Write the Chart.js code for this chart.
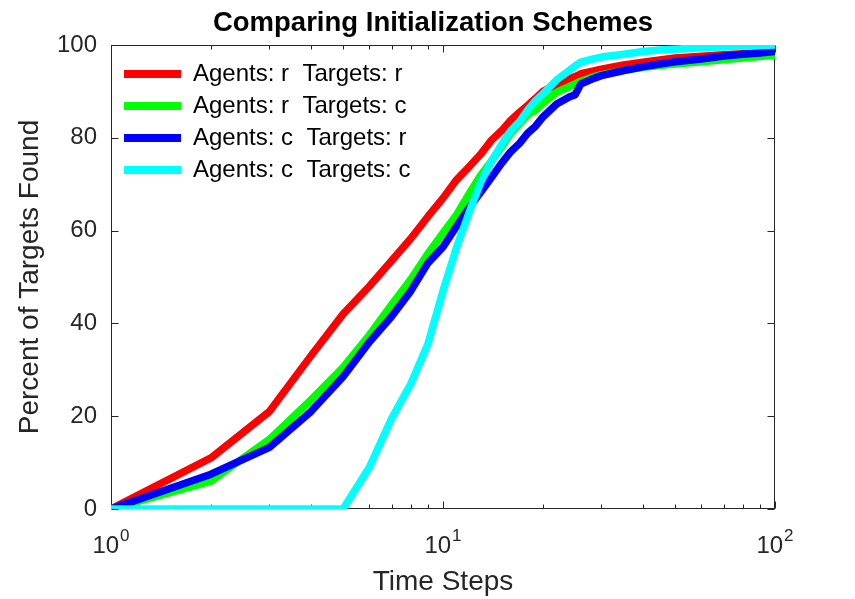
<!DOCTYPE html>
<html>
<head>
<meta charset="utf-8">
<script src="https://cdn.jsdelivr.net/npm/chart.js@4"></script>
<style>
  html, body { margin: 0; background: #fff; }
  canvas { display: block; }
</style>
</head>
<body>
<canvas id="chart" width="855" height="599"></canvas>
<script>
// ── Data ──
const steps = [1, 2, 3, 4, 5, 6, 7, 8, 9, 10, 11, 12, 13, 14, 15, 16, 17, 18, 19, 20,
               22, 24, 25, 26, 28, 30, 35, 40, 45, 50, 60, 70, 80, 90, 100];

const agentsRTargetsR = [0, 11, 21, 33, 42, 48, 53.5, 58.3, 63, 67, 71, 73.8, 76.5, 79.5, 81.5, 83.8, 85.5, 87, 88.5, 90,
                         91.5, 92.7, 93.2, 93.8, 94.3, 94.8, 95.7, 96.3, 96.8, 97.2, 97.6, 97.9, 98.1, 98.3, 98.4];
const agentsRTargetsC = [0, 6, 15, 23.5, 30.5, 37.5, 44, 49.5, 55, 59.5, 63.5, 68, 72, 75, 78, 81, 83, 85, 86, 87.5,
                         89.8, 91, 91.6, 92.2, 93, 93.6, 94.5, 95.2, 95.6, 95.9, 96.4, 96.8, 97.2, 97.5, 97.8];
const agentsCTargetsR = [0, 7.5, 13.3, 21, 28.5, 36, 41.5, 47, 53, 56.5, 61, 65, 68.3, 71.5, 74.5, 77, 78.8, 81, 82.5, 84.5,
                         87.3, 88.8, 89.3, 91.6, 92.6, 93.4, 94.5, 95.3, 95.9, 96.4, 97, 97.6, 98, 98.3, 98.6];
const agentsCTargetsC = [0, 0, 0, 0, 0, 9, 19.5, 27, 35.5, 47, 56.5, 64, 70.5, 75, 78.5, 81.5, 83.5, 86, 88, 89.5,
                         92.5, 94.5, 95.5, 96.3, 96.9, 97.4, 98, 98.6, 98.9, 99.1, 99.4, 99.6, 99.8, 99.9, 100];

const seriesLabels = ['Agents: r  Targets: r', 'Agents: r  Targets: c', 'Agents: c  Targets: r', 'Agents: c  Targets: c'];
const seriesColors = ['#ff0000', '#00ff00', '#0000ff', '#00ffff'];
const seriesValues = [agentsRTargetsR, agentsRTargetsC, agentsCTargetsR, agentsCTargetsC];

const xTickValues = [1, 2, 3, 4, 5, 6, 7, 8, 9, 10, 20, 30, 40, 50, 60, 70, 80, 90, 100];
const xMajorTicks = [1, 10, 100];
const xTickExponents = ['0', '1', '2'];
const yTickValues = [0, 20, 40, 60, 80, 100];

const FONT = "'Liberation Sans', Arial, Helvetica, sans-serif";
const AXIS_COLOR = '#262626';
Chart.defaults.font.family = FONT;

// ── MATLAB-style box, inward ticks, 10^n labels ──
const axesBox = {
  id: 'axesBox',
  afterLayout(chart) {
    const lg = chart.legend, a = chart.chartArea;
    if (lg) {
      const w = lg.width, h = lg.height;
      lg.left = a.left + 5; lg.top = a.top + 9;
      lg.right = lg.left + w; lg.bottom = lg.top + h;
    }
    // title sits a little left of the axes centre, as in the figure
    const tb = chart.titleBlock;
    if (tb) { tb.left = 11; tb.right = chart.width; tb.width = tb.right - tb.left; }
  },
  beforeDatasetsDraw(chart) {
    const { ctx, chartArea: a, scales: { x, y } } = chart;
    const L = Math.round(a.left) + 0.5, R = Math.round(a.right) - 0.5;
    const T = Math.round(a.top) + 0.5, B = Math.round(a.bottom) - 0.5;
    ctx.save();
    ctx.strokeStyle = AXIS_COLOR;
    ctx.lineWidth = 1;
    ctx.strokeRect(L, T, R - L, B - T);
    ctx.beginPath();
    x.ticks.forEach(t => {
      const px = Math.round(x.getPixelForValue(t.value)) + 0.5;
      const len = xMajorTicks.includes(t.value) ? 7 : 4;
      ctx.moveTo(px, B); ctx.lineTo(px, B - len);
      ctx.moveTo(px, T); ctx.lineTo(px, T + len);
    });
    y.ticks.forEach(t => {
      const py = Math.round(y.getPixelForValue(t.value)) + 0.5;
      ctx.moveTo(L, py); ctx.lineTo(L + 7, py);
      ctx.moveTo(R, py); ctx.lineTo(R - 7, py);
    });
    ctx.stroke();
    ctx.restore();
  },
  afterDraw(chart) {
    const { ctx, scales: { x } } = chart;
    ctx.save();
    ctx.fillStyle = AXIS_COLOR;
    ctx.textAlign = 'left';
    ctx.textBaseline = 'alphabetic';
    xMajorTicks.forEach((v, i) => {
      const px = x.getPixelForValue(v);
      ctx.font = `24px ${FONT}`;
      const wb = ctx.measureText('10').width;
      ctx.font = `17px ${FONT}`;
      const we = ctx.measureText(xTickExponents[i]).width;
      const x0 = px - (wb + 1 + we) / 2;
      ctx.font = `24px ${FONT}`;
      ctx.fillText('10', x0, x.top + 44);
      ctx.font = `17px ${FONT}`;
      ctx.fillText(xTickExponents[i], x0 + wb + 1, x.top + 32);
    });
    ctx.restore();
  }
};

// ── Chart ──
const datasets = seriesValues.map((vals, i) => ({
  label: seriesLabels[i],
  data: steps.map((t, j) => ({ x: t, y: vals[j] })),
  borderColor: seriesColors[i],
  backgroundColor: seriesColors[i],
  borderWidth: 7.5, pointRadius: 0, tension: 0, fill: false,
  borderJoinStyle: 'round',
  order: seriesValues.length - i
}));

new Chart(document.getElementById('chart'), {
  type: 'line',
  data: { datasets },
  plugins: [axesBox],
  options: {
    responsive: false, animation: false,
    layout: { padding: { left: 0, right: 80, top: 0, bottom: 0 } },
    plugins: {
      tooltip: { enabled: false },
      title: {
        display: true, text: 'Comparing Initialization Schemes', color: '#000',
        font: { size: 27.5, weight: 'bold' }, padding: { top: 6.5, bottom: 5.5 }
      },
      legend: {
        position: 'chartArea', align: 'start',
        labels: {
          color: '#000', font: { size: 24 }, boxWidth: 57, boxHeight: 8, padding: 8,
          generateLabels: chart => chart.data.datasets.map((ds, i) => ({
            text: ds.label, fillStyle: ds.borderColor, strokeStyle: ds.borderColor,
            lineWidth: 0, hidden: false, datasetIndex: i
          }))
        }
      }
    },
    scales: {
      x: {
        type: 'logarithmic', min: 1, max: 100,
        afterBuildTicks: s => { s.ticks = xTickValues.map(v => ({ value: v })); },
        afterFit: s => { s.height = 90; s.paddingLeft = 0; s.paddingRight = 0; },
        ticks: { display: false, autoSkip: false },
        grid: { display: false, drawTicks: false },
        border: { display: false },
        title: { display: true, text: 'Time Steps', color: AXIS_COLOR, font: { size: 28 }, padding: { top: 0, bottom: 0 } }
      },
      y: {
        min: 0, max: 100,
        afterBuildTicks: s => { s.ticks = yTickValues.map(v => ({ value: v })); },
        afterFit: s => { s.width = 111; s.paddingTop = 0; s.paddingBottom = 0; },
        ticks: { color: AXIS_COLOR, font: { size: 24 }, padding: 14 },
        grid: { display: false, drawTicks: false },
        border: { display: false },
        title: { display: true, text: 'Percent of Targets Found', color: AXIS_COLOR, font: { size: 28 }, padding: { top: 13, bottom: 0 } }
      }
    }
  }
});
</script>
</body>
</html>
